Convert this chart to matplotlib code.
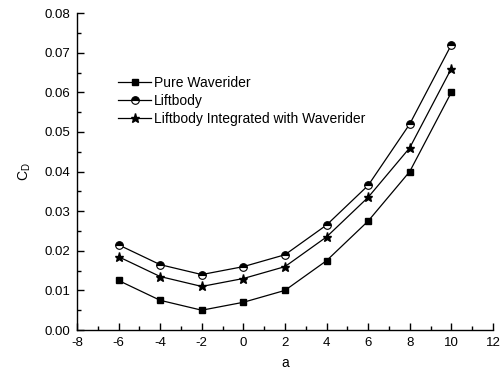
import matplotlib
matplotlib.use("Agg")
import matplotlib.pyplot as plt
from matplotlib.ticker import MultipleLocator

plt.rcParams['font.family'] = ['Liberation Sans', 'DejaVu Sans']
plt.rcParams['axes.unicode_minus'] = False

alpha = [-6, -4, -2, 0, 2, 4, 6, 8, 10]
pure_waverider = [0.0125, 0.0075, 0.005, 0.007, 0.010, 0.0175, 0.0275, 0.040, 0.060]
liftbody = [0.0215, 0.0165, 0.014, 0.016, 0.019, 0.0265, 0.0365, 0.052, 0.072]
integrated = [0.0185, 0.0135, 0.011, 0.013, 0.016, 0.0235, 0.0335, 0.046, 0.066]

fig = plt.figure(figsize=(5.03, 3.74), dpi=100)
ax = fig.add_axes([0.153, 0.1176, 0.827, 0.8474])

ax.plot(alpha, pure_waverider, color='black', lw=0.9, marker='s', ms=5,
        label='Pure Waverider')
ax.plot(alpha, liftbody, color='black', lw=0.9, marker='o', ms=5.5,
        fillstyle='top', markerfacecolor='black', markerfacecoloralt='white',
        markeredgecolor='black', markeredgewidth=0.8, label='Liftbody')
ax.plot(alpha, integrated, color='black', lw=0.9, marker='*', ms=6.5,
        label='Liftbody Integrated with Waverider')

ax.set_xlim(-8, 12)
ax.set_ylim(0, 0.08)
ax.xaxis.set_major_locator(MultipleLocator(2))
ax.xaxis.set_minor_locator(MultipleLocator(1))
ax.yaxis.set_major_locator(MultipleLocator(0.01))
ax.yaxis.set_minor_locator(MultipleLocator(0.005))
ax.yaxis.set_major_formatter(plt.FormatStrFormatter('%.2f'))

for s in ['top', 'right']:
    ax.spines[s].set_visible(False)
ax.spines['left'].set_linewidth(1.0)
ax.spines['bottom'].set_linewidth(1.0)
ax.tick_params(which='major', direction='in', length=5, width=1, labelsize=9.5, pad=5)
ax.tick_params(which='minor', direction='in', length=3, width=1)

ax.set_xlabel('a', fontsize=10, labelpad=5)
ax.set_ylabel('C$_\\mathregular{D}$', fontsize=10, labelpad=8)

ax.legend(loc='upper left', bbox_to_anchor=(0.085, 0.82), frameon=False,
          fontsize=10, handlelength=2.4, handletextpad=0.2, labelspacing=0.3,
          borderaxespad=0)

fig.savefig('out.png', dpi=100)
